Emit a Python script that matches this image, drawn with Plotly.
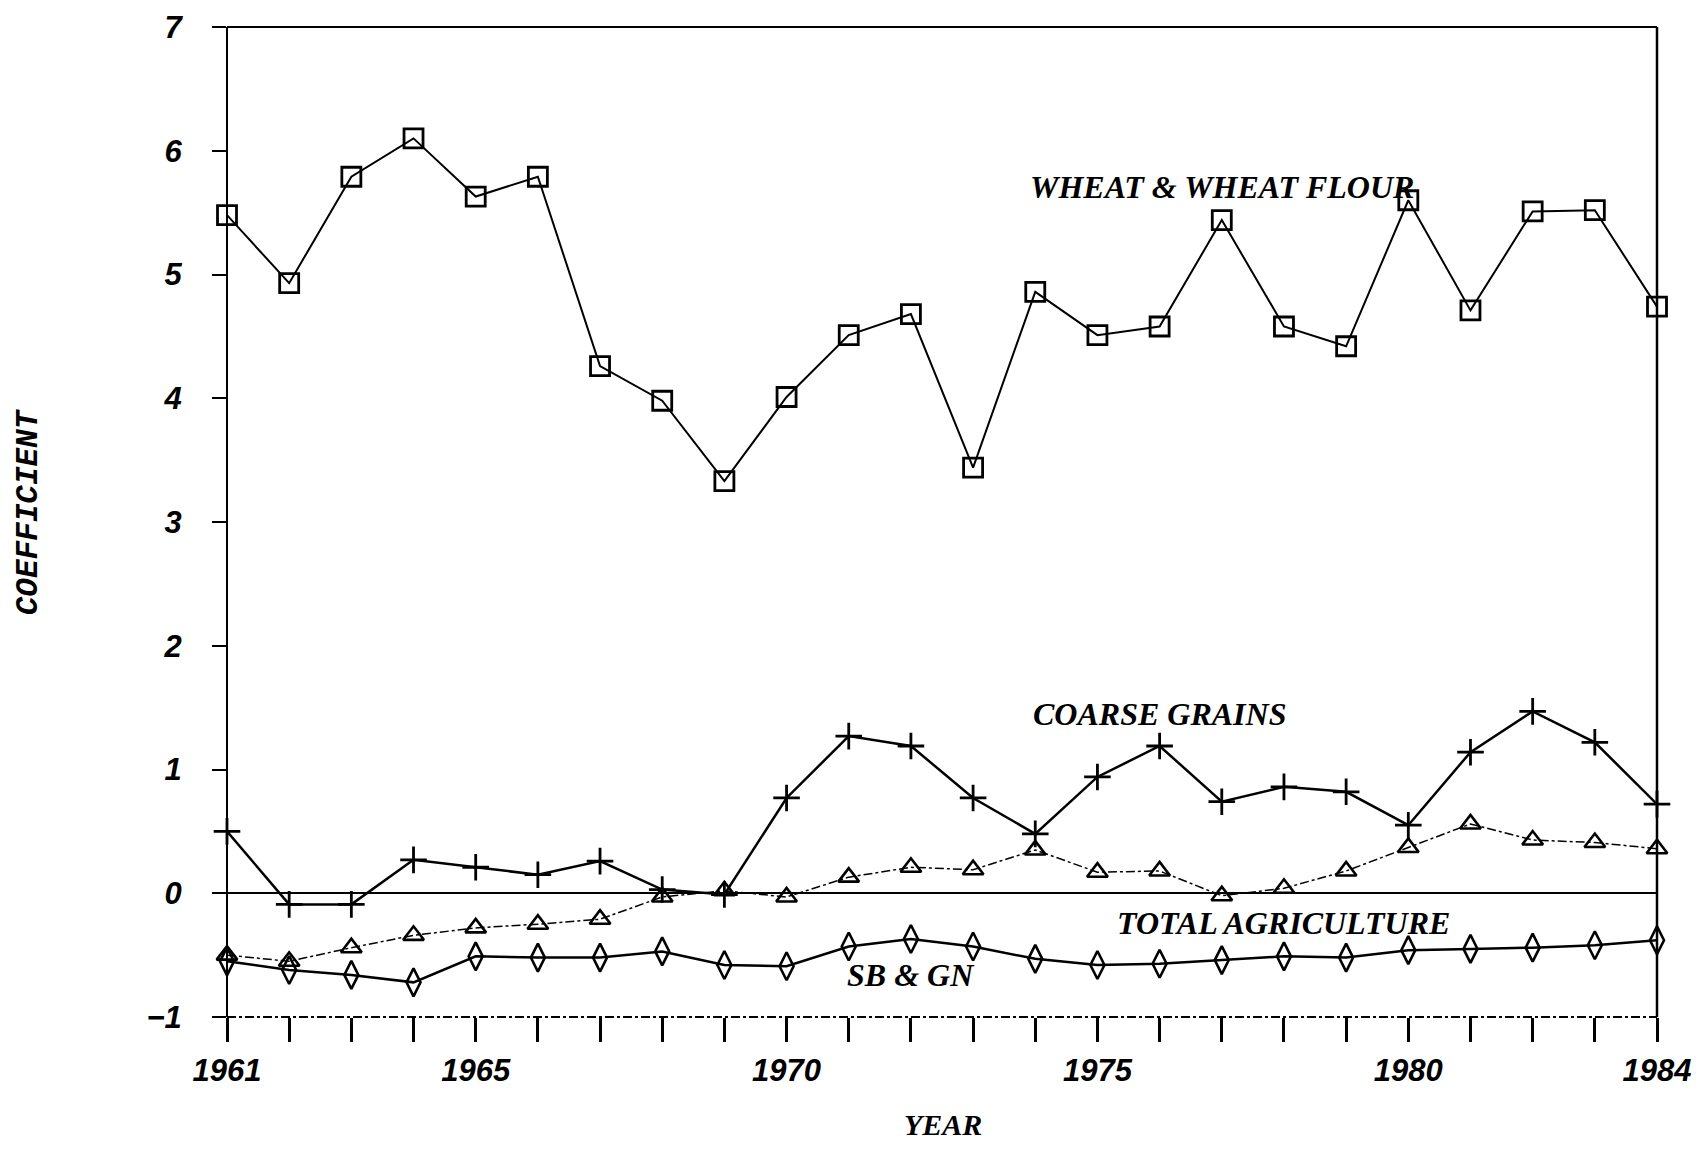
import plotly.graph_objects as go

years = list(range(1961, 1985))

wheat = [5.48, 4.93, 5.79, 6.10, 5.63, 5.79, 4.26, 3.98, 3.33, 4.01, 4.51, 4.68,
         3.44, 4.86, 4.51, 4.58, 5.44, 4.58, 4.42, 5.60, 4.71, 5.51, 5.52, 4.74]
coarse = [0.50, -0.09, -0.09, 0.27, 0.21, 0.15, 0.26, 0.03, -0.01, 0.77, 1.27, 1.19,
          0.77, 0.48, 0.94, 1.19, 0.74, 0.86, 0.82, 0.55, 1.14, 1.47, 1.22, 0.72]
total_ag = [-0.50, -0.55, -0.44, -0.34, -0.28, -0.25, -0.21, -0.03, 0.02, -0.03, 0.13, 0.21,
            0.19, 0.35, 0.17, 0.18, -0.02, 0.04, 0.18, 0.37, 0.56, 0.43, 0.41, 0.36]
sbgn = [-0.55, -0.62, -0.66, -0.72, -0.51, -0.52, -0.52, -0.47, -0.58, -0.59, -0.43, -0.37,
        -0.43, -0.53, -0.58, -0.57, -0.54, -0.51, -0.52, -0.46, -0.45, -0.44, -0.42, -0.38]

x_tick_text = ["1961", "", "", "", "1965", "", "", "", "", "1970", "", "", "", "",
               "1975", "", "", "", "", "1980", "", "", "", "1984"]
y_tick_vals = [-1, 0, 1, 2, 3, 4, 5, 6, 7]
y_tick_text = ["\u22121", "0", "1", "2", "3", "4", "5", "6", "7"]

series_labels = ["WHEAT & WHEAT FLOUR", "COARSE GRAINS", "TOTAL AGRICULTURE", "SB & GN"]
label_x = [1977.0, 1976.0, 1978.0, 1972.0]
label_y = [5.71, 1.45, -0.24, -0.66]

fig = go.Figure()
fig.add_trace(go.Scatter(x=years, y=wheat, mode="lines+markers", cliponaxis=False,
                         line=dict(color="black", width=2),
                         marker=dict(symbol="square-open", size=19, color="black",
                                     line=dict(width=2.8, color="black"))))
fig.add_trace(go.Scatter(x=years, y=coarse, mode="lines+markers", cliponaxis=False,
                         line=dict(color="black", width=2.5),
                         marker=dict(symbol="cross-thin-open", size=19, color="black",
                                     line=dict(width=2.8, color="black"))))
fig.add_trace(go.Scatter(x=years, y=total_ag, mode="lines+markers", cliponaxis=False,
                         line=dict(color="black", width=1.5, dash="dashdot"),
                         marker=dict(symbol="triangle-up-open", size=18, color="black",
                                     line=dict(width=2.6, color="black"))))
fig.add_trace(go.Scatter(x=years, y=sbgn, mode="lines+markers", cliponaxis=False,
                         line=dict(color="black", width=2.5),
                         marker=dict(symbol="diamond-tall-open", size=20, color="black",
                                     line=dict(width=2.6, color="black"))))

label_font = dict(family="Liberation Serif", size=32, color="black", weight="bold", style="italic")
for t, lx, ly in zip(series_labels, label_x, label_y):
    fig.add_annotation(x=lx, y=ly, text=t, showarrow=False, font=label_font,
                       xanchor="center", yanchor="middle")

fig.add_annotation(xref="paper", yref="paper", x=-0.139, y=0.51, text="COEFFICIENT",
                   showarrow=False, textangle=-90, xanchor="center", yanchor="middle",
                   font=dict(family="Liberation Mono", size=31, color="black",
                             weight="bold", style="italic"))
fig.add_annotation(xref="paper", yref="paper", x=0.5007, y=-0.1275, text="YEAR",
                   showarrow=False, xanchor="center", yanchor="bottom",
                   font=dict(family="Liberation Serif", size=30, color="black",
                             weight="bold", style="italic"))

# frame
fig.add_shape(type="line", xref="paper", yref="paper", x0=0, x1=0, y0=0, y1=1,
              line=dict(color="black", width=2))
fig.add_shape(type="line", xref="paper", yref="paper", x0=1, x1=1, y0=0, y1=1,
              line=dict(color="black", width=2.5))
fig.add_shape(type="line", xref="paper", yref="paper", x0=0, x1=1, y0=1, y1=1,
              line=dict(color="black", width=2))
fig.add_shape(type="line", xref="paper", yref="paper", x0=0, x1=1, y0=0, y1=0,
              line=dict(color="black", width=2, dash="dashdot"))

tick_font = dict(family="Liberation Sans", size=31, color="black", weight="bold", style="italic")
fig.update_xaxes(range=[1961, 1984], tickvals=years, ticktext=x_tick_text,
                 ticks="outside", ticklen=24, tickwidth=2.5, tickcolor="black",
                 showgrid=False, zeroline=False, showline=False, tickfont=tick_font,
                 ticklabelstandoff=2, automargin=False, ticklabeloverflow="allow")
fig.update_yaxes(range=[-1, 7], tickvals=y_tick_vals, ticktext=y_tick_text,
                 ticks="outside", ticklen=14, tickwidth=2, tickcolor="black",
                 showgrid=False, zeroline=True, zerolinecolor="black", zerolinewidth=2,
                 showline=False, tickfont=tick_font, ticklabelstandoff=24, automargin=False,
                 ticklabeloverflow="allow")

fig.update_layout(width=1687, height=1136, showlegend=False,
                  plot_bgcolor="white", paper_bgcolor="white",
                  margin=dict(l=219, r=38, t=19, b=127))

fig.write_html("out.html")
